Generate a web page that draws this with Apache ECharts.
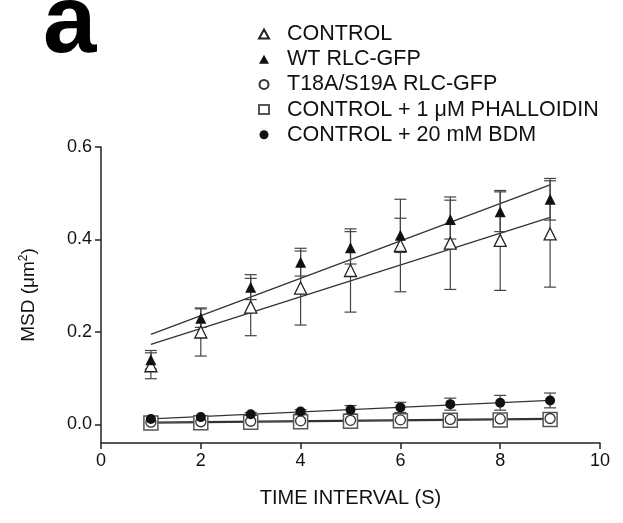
<!DOCTYPE html>
<html>
<head>
<meta charset="utf-8">
<script src="https://cdn.jsdelivr.net/npm/echarts@6/dist/echarts.min.js"></script>
<style>
  html, body { margin: 0; padding: 0; background: #fff; }
  #chart_view { width: 623px; height: 523px; }
</style>
</head>
<body>
<div id="chart_view"></div>
<script type="text/javascript">
  // time interval (s)
  var times = [1, 2, 3, 4, 5, 6, 7, 8, 9];
  // MSD means and error bars
  var control = [0.127, 0.200, 0.254, 0.295, 0.333, 0.387, 0.392, 0.398, 0.412];
  var controlErr = [0.028, 0.052, 0.062, 0.080, 0.090, 0.100, 0.100, 0.108, 0.115];
  var wt = [0.140, 0.230, 0.297, 0.351, 0.382, 0.409, 0.443, 0.460, 0.487];
  var wtErr = [0.020, 0.020, 0.027, 0.030, 0.035, 0.037, 0.042, 0.043, 0.045];
  var t18a = [0.005, 0.006, 0.007, 0.008, 0.009, 0.010, 0.011, 0.012, 0.013];
  var phalloidin = [0.003, 0.004, 0.005, 0.006, 0.007, 0.008, 0.009, 0.010, 0.011];
  var bdm = [0.012, 0.016, 0.022, 0.028, 0.032, 0.037, 0.044, 0.047, 0.052];
  var bdmErr = [0.003, 0.003, 0.004, 0.004, 0.009, 0.011, 0.013, 0.016, 0.016];
  // fitted lines, value at t = 1 and t = 9
  var fitX = [1, 9];
  var fitControl = [0.173, 0.448];
  var fitWt = [0.195, 0.518];
  var fitT18a = [0.005, 0.013];
  var fitPhalloidin = [0.003, 0.011];
  var fitBdm = [0.012, 0.052];
  var yTicks = [0, 0.2, 0.4, 0.6];

  var names = ['CONTROL', 'WT RLC-GFP', 'T18A/S19A RLC-GFP', 'CONTROL + 1 \u03bcM PHALLOIDIN', 'CONTROL + 20 mM BDM'];
  var font = 'Liberation Sans';

  function pts(ys) {
    return times.map(function (t, i) { return [t, ys[i]]; });
  }
  function fit(ys) {
    return fitX.map(function (t, i) { return [t, ys[i]]; });
  }
  function bars(ys, es) {
    return times.map(function (t, i) { return [t, ys[i] - es[i], ys[i] + es[i]]; });
  }

  function renderBar(params, api) {
    var lo = api.coord([api.value(0), api.value(1)]);
    var hi = api.coord([api.value(0), api.value(2)]);
    var w = 6;
    var st = { stroke: '#444', lineWidth: 1.2 };
    return {
      type: 'group',
      children: [
        { type: 'line', shape: { x1: lo[0], y1: lo[1], x2: hi[0], y2: hi[1] }, style: st },
        { type: 'line', shape: { x1: lo[0] - w, y1: lo[1], x2: lo[0] + w, y2: lo[1] }, style: st },
        { type: 'line', shape: { x1: hi[0] - w, y1: hi[1], x2: hi[0] + w, y2: hi[1] }, style: st }
      ]
    };
  }

  function fitSeries(ys) {
    return {
      type: 'line', data: fit(ys), symbol: 'none', silent: true, z: 1,
      lineStyle: { color: '#333', width: 1.3 }
    };
  }
  function barSeries(ys, es) {
    return {
      type: 'custom', data: bars(ys, es), renderItem: renderBar, silent: true, z: 2
    };
  }

  var myChart = echarts.init(document.getElementById('chart_view'));
  var option = {
    animation: false,
    textStyle: { fontFamily: font, color: '#111' },
    graphic: [
      {
        type: 'text', x: 43, y: 26,
        style: { text: 'a', font: 'bold 96px "Liberation Sans"', fill: '#000', verticalAlign: 'middle' }
      }
    ],
    legend: {
      orient: 'vertical',
      left: 253,
      top: 18,
      itemWidth: 10,
      itemHeight: 9,
      itemGap: 3.2,
      data: names,
      textStyle: { fontFamily: font, fontSize: 21.5, color: '#111', padding: [0, 0, 0, 13] }
    },
    grid: { left: 101, right: 23, top: 147, bottom: 80 },
    xAxis: {
      type: 'value',
      min: 0, max: 10, interval: 2,
      name: 'TIME INTERVAL (S)',
      nameLocation: 'middle',
      nameGap: 45,
      nameTextStyle: { fontFamily: font, fontSize: 20, color: '#111' },
      axisLine: { onZero: false, lineStyle: { color: '#222', width: 1.5 } },
      axisTick: { length: 6, lineStyle: { color: '#222', width: 1.5 } },
      axisLabel: { margin: 9, fontSize: 18, color: '#111' },
      splitLine: { show: false }
    },
    yAxis: {
      type: 'value',
      min: -0.04, max: 0.6,
      name: '{a|MSD (\u03bcm}{s|2}{a|)}',
      nameLocation: 'middle',
      nameRotate: 90,
      nameGap: 62,
      nameTextStyle: {
        rich: {
          a: { fontFamily: font, fontSize: 19, color: '#111' },
          s: { fontFamily: font, fontSize: 12, color: '#111', padding: [0, 0, 9, 0] }
        }
      },
      axisLine: { onZero: false, lineStyle: { color: '#222', width: 1.5 } },
      axisTick: { length: 6, customValues: yTicks, lineStyle: { color: '#222', width: 1.5 } },
      axisLabel: {
        margin: 9, fontSize: 18, color: '#111', customValues: yTicks,
        formatter: function (v) { return v.toFixed(1); }
      },
      splitLine: { show: false }
    },
    series: [
      fitSeries(fitControl),
      fitSeries(fitWt),
      fitSeries(fitT18a),
      fitSeries(fitPhalloidin),
      fitSeries(fitBdm),
      barSeries(control, controlErr),
      barSeries(wt, wtErr),
      barSeries(bdm, bdmErr),
      {
        name: names[3], type: 'scatter', data: pts(phalloidin), symbol: 'rect', symbolSize: 14, z: 3,
        itemStyle: { color: '#fff', borderColor: '#555', borderWidth: 1.5, opacity: 1 }
      },
      {
        name: names[2], type: 'scatter', data: pts(t18a), symbol: 'circle', symbolSize: 10, z: 4,
        itemStyle: { color: '#fff', borderColor: '#333', borderWidth: 1.3, opacity: 1 }
      },
      {
        name: names[4], type: 'scatter', data: pts(bdm), symbol: 'circle', symbolSize: 10, z: 5,
        itemStyle: { color: '#111', opacity: 1 }
      },
      {
        name: names[0], type: 'scatter', data: pts(control), symbol: 'triangle', symbolSize: 12, z: 5,
        itemStyle: { color: '#fff', borderColor: '#222', borderWidth: 1.3, opacity: 1 }
      },
      {
        name: names[1], type: 'scatter', data: pts(wt), symbol: 'triangle', symbolSize: 11, z: 6,
        itemStyle: { color: '#111', opacity: 1 }
      }
    ]
  };
  myChart.setOption(option);
</script>
</body>
</html>
